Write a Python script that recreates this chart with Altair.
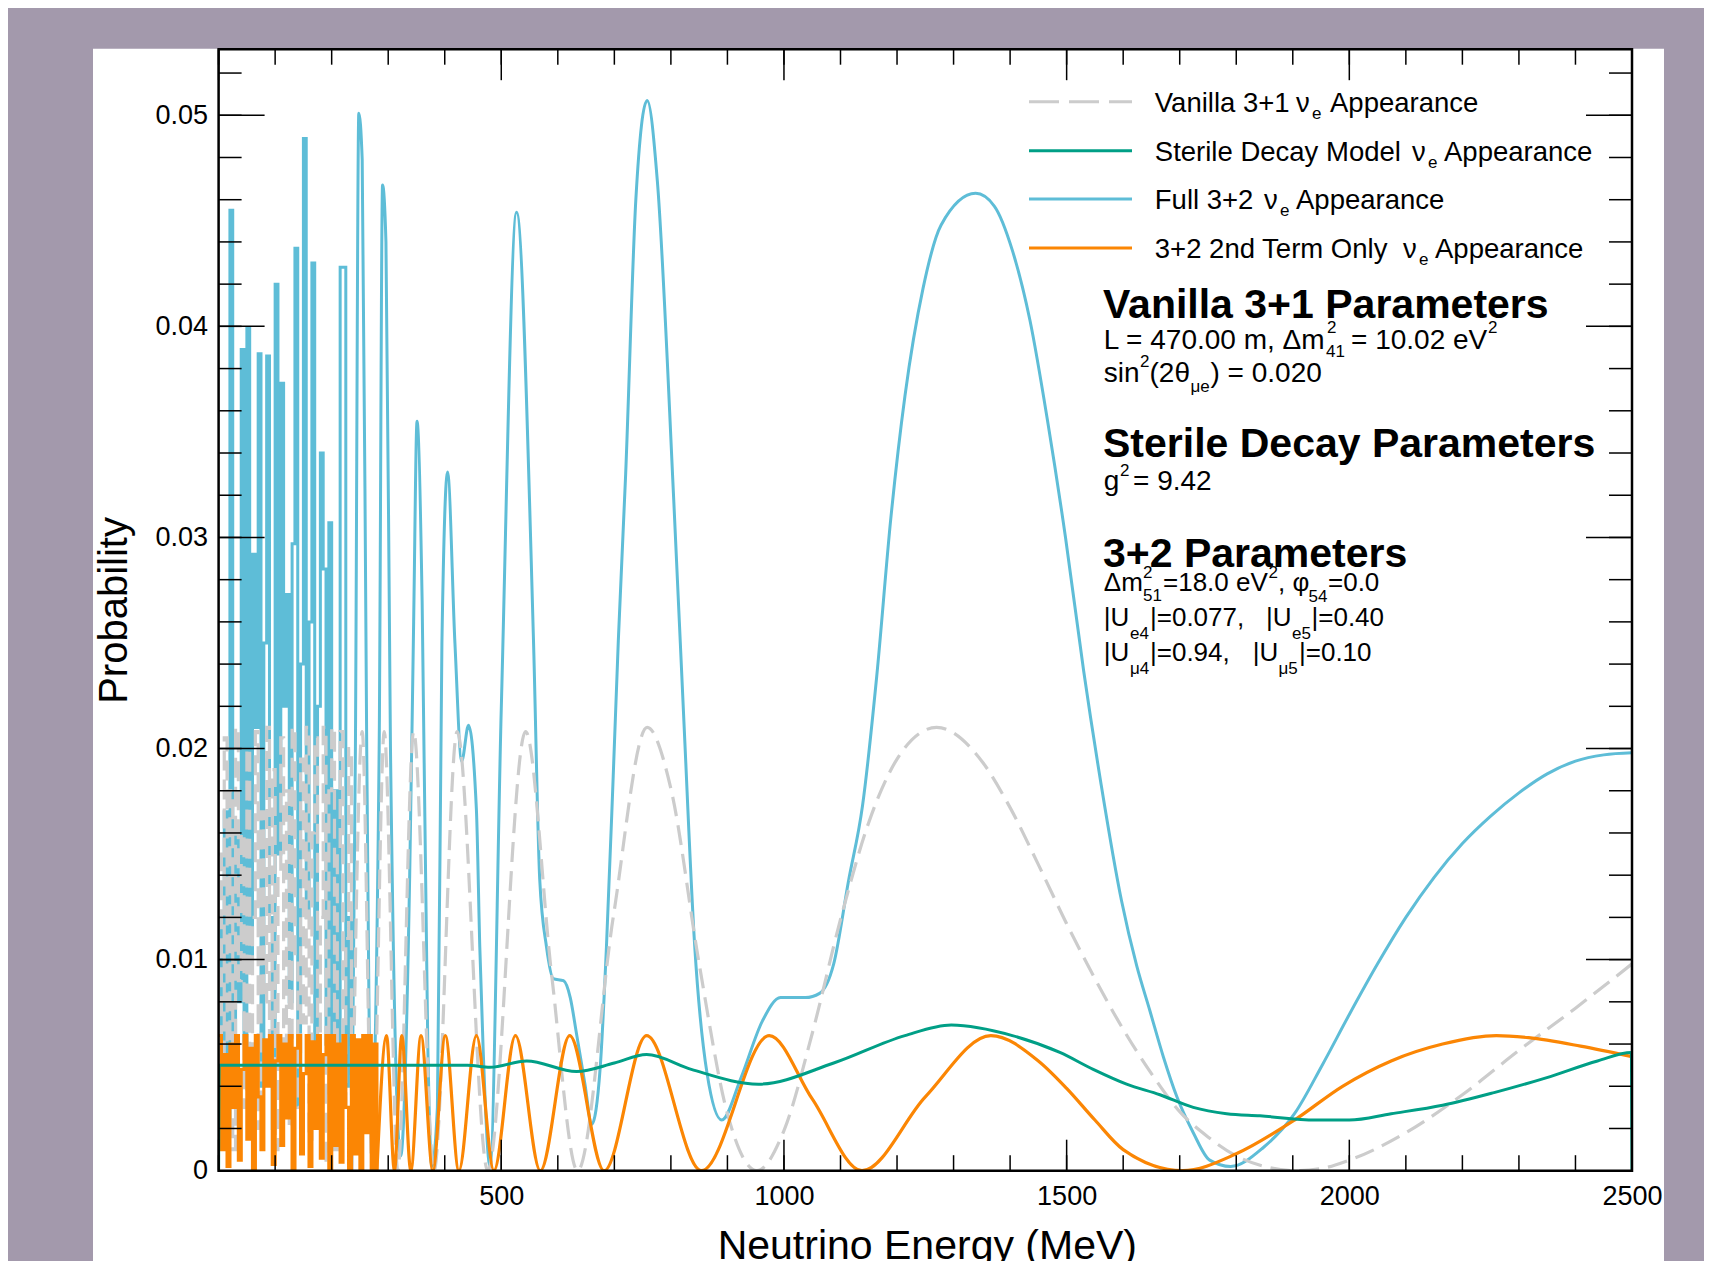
import altair as alt
import pandas as pd

# ------------------------------------------------------------------ data
# dense, aliased low-energy region (5 MeV histogram bins)
bin_E = list(range(0, 240, 5))
blue_dense = [
    0.0120, 0.0035, 0.0170, 0.0025, 0.0455, 0.0030, 0.0160, 0.0080, 0.0389, 0.0060,
    0.0399, 0.0100, 0.0292, 0.0210, 0.0387, 0.0040, 0.0250, 0.0386, 0.0120, 0.0020,
    0.0420, 0.0150, 0.0373, 0.0220, 0.0273, 0.0080, 0.0297, 0.0437, 0.0030, 0.0240,
    0.0489, 0.0120, 0.0260, 0.0430, 0.0040, 0.0220, 0.0340, 0.0285, 0.0060, 0.0307,
    0.0010, 0.0180, 0.0020, 0.0428, 0.0428, 0.0040, 0.0120, 0.0010]
gray_dense = [
    0.0150, 0.0020, 0.0205, 0.0060, 0.0180, 0.0010, 0.0210, 0.0090, 0.0160, 0.0030,
    0.0200, 0.0050, 0.0120, 0.0208, 0.0020, 0.0170, 0.0080, 0.0210, 0.0040, 0.0190,
    0.0010, 0.0140, 0.0205, 0.0060, 0.0180, 0.0020, 0.0210, 0.0100, 0.0030, 0.0195,
    0.0070, 0.0210, 0.0015, 0.0160, 0.0205, 0.0040, 0.0120, 0.0210, 0.0005, 0.0180,
    0.0210, 0.0010, 0.0150, 0.0208, 0.0030, 0.0110, 0.0200, 0.0000]
orange_bin_E = list(range(0, 285, 5))
orange_dense = [
    0.0064, 0.0010, 0.0055, 0.0002, 0.0060, 0.0030, 0.0064, 0.0005, 0.0048, 0.0064,
    0.0015, 0.0058, 0.0000, 0.0064, 0.0035, 0.0010, 0.0062, 0.0040, 0.0064, 0.0003,
    0.0052, 0.0064, 0.0012, 0.0060, 0.0025, 0.0064, 0.0000, 0.0058, 0.0064, 0.0008,
    0.0046, 0.0064, 0.0002, 0.0061, 0.0020, 0.0064, 0.0006, 0.0055, 0.0064, 0.0000,
    0.0064, 0.0012, 0.0060, 0.0004, 0.0064, 0.0030, 0.0000, 0.0064, 0.0008, 0.0062,
    0.0000, 0.0064, 0.0018, 0.0064, 0.0000, 0.0060, 0.0000]

# resolved region (knots)
blue_E = [236, 242, 248, 254, 262, 270, 284, 290, 296, 304, 322, 338, 345, 351, 360,
          370, 377, 387, 395, 405, 418, 430, 442, 456, 462, 468, 480, 500, 527, 557,
          568, 580, 592, 610, 622, 633, 648, 660, 675, 686, 698, 707, 720, 738, 758,
          776, 805, 823, 842, 864, 890, 924, 962, 994, 1038, 1063, 1088, 1114, 1139,
          1164, 1189, 1214, 1246, 1278, 1339, 1372, 1404, 1435, 1467, 1498, 1530,
          1561, 1597, 1624, 1647, 1671, 1695, 1724, 1753, 1790, 1848, 1903, 1952,
          2000, 2050, 2100, 2150, 2200, 2250, 2300, 2350, 2400, 2450, 2500]
blue_P = [0.0020, 0.0200, 0.0501, 0.0479, 0.0200, 0.0015, 0.0200, 0.0467, 0.0440, 0.0200,
          0.0007, 0.0140, 0.0260, 0.0355, 0.0270, 0.0060, 0.0002, 0.0030, 0.0250, 0.0331,
          0.0250, 0.0194, 0.0211, 0.0171, 0.0106, 0.0057, 0.0002, 0.0219, 0.0454, 0.0251,
          0.0138, 0.0106, 0.0091, 0.0090, 0.0082, 0.0065, 0.0041, 0.0022, 0.0049, 0.0106,
          0.0187, 0.0251, 0.0330, 0.0460, 0.0507, 0.0469, 0.0318, 0.0213, 0.0107, 0.0046,
          0.0024, 0.0044, 0.0071, 0.0082, 0.0082, 0.0084, 0.0098, 0.0137, 0.0173, 0.0234,
          0.0309, 0.0367, 0.0418, 0.0448, 0.0463, 0.0457, 0.0436, 0.0403, 0.0354, 0.0300,
          0.0237, 0.0183, 0.0128, 0.0097, 0.0076, 0.0054, 0.0035, 0.0018, 0.0005, 0.0002,
          0.0011, 0.0027, 0.0050, 0.0074, 0.0098, 0.0120, 0.0139, 0.0155, 0.0168, 0.0179,
          0.0188, 0.0194, 0.0197, 0.0198]

gray_E = [236, 254, 272, 293, 317, 345, 381, 422, 476, 543, 589, 635, 698, 758, 800,
          850, 900, 952, 1000, 1050, 1100, 1150, 1200, 1270, 1350, 1400, 1450, 1500,
          1550, 1600, 1650, 1700, 1750, 1800, 1850, 1904, 1950, 2000, 2100, 2200, 2300,
          2400, 2500]
gray_P = [0.0000, 0.0208, 0.0000, 0.0208, 0.0000, 0.0208, 0.0000, 0.0208, 0.0000, 0.0208,
          0.0093, 0.0000, 0.0120, 0.0210, 0.0181, 0.0098, 0.0027, 0.0000, 0.0019, 0.0065,
          0.0119, 0.0165, 0.0195, 0.0210, 0.0194, 0.0172, 0.0145, 0.0117, 0.0091, 0.0067,
          0.0046, 0.0028, 0.0016, 0.0007, 0.0002, 0.0000, 0.0001, 0.0005, 0.0018, 0.0036,
          0.0057, 0.0077, 0.0098]

orange_E = [280, 297, 311, 324, 340, 358, 379, 401, 425, 456, 487, 525, 569, 621, 682,
            757, 854, 974, 1050, 1138, 1250, 1366, 1450, 1500, 1550, 1600, 1705, 1800,
            1903, 1988, 2074, 2165, 2260, 2317, 2409, 2500]
orange_P = [0.0000, 0.0064, 0.0000, 0.0064, 0.0000, 0.0064, 0.0000, 0.0064, 0.0000, 0.0064,
            0.0000, 0.0064, 0.0000, 0.0064, 0.0000, 0.0064, 0.0000, 0.0064, 0.0034, 0.0000,
            0.0035, 0.0064, 0.0052, 0.0039, 0.0024, 0.0010, 0.0000, 0.0008, 0.0024, 0.0040,
            0.0052, 0.0060, 0.0064, 0.0063, 0.0059, 0.0054]

green_E = [0, 1, 320, 440, 480, 545, 633, 700, 757, 836, 955, 1088, 1214, 1296, 1404,
           1488, 1547, 1606, 1665, 1724, 1783, 1842, 1940, 2000, 2074, 2165, 2256, 2348,
           2439, 2499, 2500]
green_P = [0.0000, 0.0050, 0.0050, 0.0050, 0.0049, 0.0052, 0.0047, 0.0051, 0.0055, 0.0048,
           0.0041, 0.0051, 0.0064, 0.0069, 0.0064, 0.0056, 0.0048, 0.0041, 0.0036, 0.0030,
           0.0027, 0.0026, 0.0024, 0.0024, 0.0027, 0.0031, 0.0037, 0.0044, 0.0052, 0.0056,
           0.0000]

x_major = [0, 500, 1000, 1500, 2000, 2500]
x_minor = list(range(0, 2600, 100))
x_labels = [500, 1000, 1500, 2000, 2500]
y_major = [0.0, 0.01, 0.02, 0.03, 0.04, 0.05]
y_minor = [0.002, 0.004, 0.006, 0.008, 0.010, 0.012, 0.014, 0.016, 0.018, 0.020,
           0.022, 0.024, 0.026, 0.028, 0.030, 0.032, 0.034, 0.036, 0.038, 0.040,
           0.042, 0.044, 0.046, 0.048, 0.050, 0.052]

# ------------------------------------------------------------------ layout / style
W, H = 1413.4, 1121.5          # plot area
X0, Y0 = 218.6, 49.2           # plot origin in page pixels
FONT = "Liberation Sans"
BLUE, GRAY, ORANGE, GREEN = "#5ebdd7", "#cccccc", "#fb8604", "#009f86"
GDASH = [20, 9]

xs = alt.Scale(domain=[0, 2500], nice=False, zero=False)
ys = alt.Scale(domain=[0, 0.05313], nice=False, zero=False)

XAX = alt.Axis(values=x_labels, format="d", title="Neutrino Energy (MeV)", ticks=False,
               tickSize=0, domain=False, grid=False, labelFontSize=27, labelPadding=13,
               labelColor="black", labelFont=FONT, labelOverlap=False, labelFlush=False,
               titleFontSize=41, titleFont=FONT, titleFontWeight="normal",
               titleColor="black", titleX=W / 2 + 1.5, titleY=88, titleAlign="center",
               titleBaseline="alphabetic", zindex=2)
YAX = alt.Axis(values=y_major, format=".2~f", title="Probability", ticks=False,
               tickSize=0, domain=False, grid=False, labelFontSize=27, labelPadding=11,
               labelColor="black", labelFont=FONT, labelOverlap=False, labelFlush=False,
               titleFontSize=40, titleFont=FONT, titleFontWeight="normal",
               titleColor="black", titleAngle=270, titleX=114 - X0, titleY=H / 2,
               titleAlign="center", titleBaseline="middle", zindex=2)


def X():
    return alt.X("E:Q", scale=xs, axis=XAX)


def Y():
    return alt.Y("P:Q", scale=ys, axis=YAX)


def df(E, P):
    return pd.DataFrame({"E": E, "P": P})


def curve(data, color, interp, width=3.0, dash=None):
    kw = dict(color=color, strokeWidth=width, interpolate=interp, clip=True)
    if dash:
        kw["strokeDash"] = dash
    return alt.Chart(data).mark_line(**kw).encode(x=X(), y=Y())


dummy = pd.DataFrame({"d": [0]})


def txt(s, px, py, size, bold=False):
    return alt.Chart(dummy).mark_text(
        text=s, align="left", baseline="alphabetic", fontSize=size, font=FONT,
        fontWeight="bold" if bold else "normal", color="black"
    ).encode(x=alt.value(px - X0), y=alt.value(py - Y0))


def hline(px1, px2, py, color, dash=None):
    kw = dict(color=color, strokeWidth=3)
    if dash:
        kw["strokeDash"] = dash
    return alt.Chart(dummy).mark_rule(**kw).encode(
        x=alt.value(px1 - X0), x2=alt.value(px2 - X0), y=alt.value(py - Y0))


layers = []

# white panel
layers.append(alt.Chart(dummy).mark_rect(color="white").encode(
    x=alt.value(93 - X0), x2=alt.value(1664 - X0), y=alt.value(-0.5), y2=alt.value(H + 200)))

# curves
layers.append(curve(df(bin_E, blue_dense), BLUE, "step-after"))
layers.append(curve(df(blue_E, blue_P), BLUE, "monotone"))
layers.append(curve(df(bin_E, gray_dense), GRAY, "step-after", width=3.2, dash=GDASH))
layers.append(curve(df(gray_E, gray_P), GRAY, "monotone", width=3.2, dash=GDASH))
layers.append(curve(df(orange_bin_E, orange_dense), ORANGE, "step-after", width=3.2))
layers.append(curve(df(orange_E, orange_P), ORANGE, "monotone", width=3.2))
layers.append(curve(df(green_E, green_P), GREEN, "monotone", width=3.0))

# ticks (inward, on all four sides)
tick = dict(color="black", strokeWidth=1.5)
xmin_df = pd.DataFrame({"E": x_minor})
xmaj_df = pd.DataFrame({"E": x_major})
ymin_df = pd.DataFrame({"P": y_minor})
ymaj_df = pd.DataFrame({"P": y_major})
for d_, ln in ((xmin_df, 15.5), (xmaj_df, 31)):
    layers.append(alt.Chart(d_).mark_rule(**tick).encode(x=X(), y=alt.value(H), y2=alt.value(H - ln)))
    layers.append(alt.Chart(d_).mark_rule(**tick).encode(x=X(), y=alt.value(0), y2=alt.value(ln)))
for d_, ln in ((ymin_df, 23), (ymaj_df, 46)):
    layers.append(alt.Chart(d_).mark_rule(**tick).encode(y=Y(), x=alt.value(0), x2=alt.value(ln)))
    layers.append(alt.Chart(d_).mark_rule(**tick).encode(y=Y(), x=alt.value(W), x2=alt.value(W - ln)))

# frame
layers.append(alt.Chart(dummy).mark_rect(fillOpacity=0, stroke="black", strokeWidth=2.5).encode(
    x=alt.value(0), x2=alt.value(W), y=alt.value(0), y2=alt.value(H)))

# legend
rows = [101.7, 150.8, 198.9, 248.1]
layers.append(hline(1029, 1132, rows[0], GRAY, dash=[30, 10]))
layers.append(hline(1029, 1132, rows[1], GREEN))
layers.append(hline(1029, 1132, rows[2], BLUE))
layers.append(hline(1029, 1132, rows[3], ORANGE))
LS, SS = 27.5, 17
legend_parts = [
    ("Vanilla 3+1", 1296, 1312, 1330),
    ("Sterile Decay Model", 1412, 1428, 1444),
    ("Full 3+2", 1264, 1280, 1296),
    ("3+2 2nd Term Only", 1403, 1419, 1435),
]
for (s, xn, xe, xa), ry in zip(legend_parts, rows):
    layers.append(txt(s, 1154.8, ry + 10, LS))
    layers.append(txt("\u03bd", xn, ry + 10, LS))
    layers.append(txt("e", xe, ry + 17, SS))
    layers.append(txt("Appearance", xa, ry + 10, LS))

# parameter blocks
BS, NS, MS = 41, 28, 26
layers += [
    txt("Vanilla 3+1 Parameters", 1103, 318, BS, bold=True),
    txt("L = 470.00 m, \u0394m", 1103.8, 348.5, NS),
    txt("2", 1327, 333, SS), txt("41", 1326, 357, SS),
    txt("= 10.02 eV", 1351, 348.5, NS), txt("2", 1488, 333, SS),
    txt("sin", 1103.8, 381.5, NS), txt("2", 1140, 367, SS),
    txt("(2\u03b8", 1149.5, 381.5, NS), txt("\u03bce", 1190.5, 392, SS),
    txt(") = 0.020", 1210.5, 381.5, NS),
    txt("Sterile Decay Parameters", 1103, 457, BS, bold=True),
    txt("g", 1103.8, 490, NS), txt("2", 1120, 476, SS), txt("= 9.42", 1133, 490, NS),
    txt("3+2 Parameters", 1103, 567, BS, bold=True),
    txt("\u0394m", 1103.8, 591, MS), txt("2", 1143, 578, SS), txt("51", 1143, 601, SS),
    txt("=18.0 eV", 1163, 591, MS), txt("2", 1268.5, 578, SS),
    txt(", \u03c6", 1278, 591, MS), txt("54", 1308.5, 602, SS), txt("=0.0", 1328, 591, MS),
    txt("|U", 1103.8, 626, MS), txt("e4", 1130, 639, SS), txt("|=0.077,", 1150, 626, MS),
    txt("|U", 1266, 626, MS), txt("e5", 1292, 639, SS), txt("|=0.40", 1311.5, 626, MS),
    txt("|U", 1103.8, 661, MS), txt("\u03bc4", 1130, 674, SS), txt("|=0.94,", 1150, 661, MS),
    txt("|U", 1252.7, 661, MS), txt("\u03bc5", 1278.5, 674, SS), txt("|=0.10", 1299, 661, MS),
]

CANVAS_W, CANVAS_H = 1696, 1253
chart = alt.layer(*layers).properties(
    width=W, height=H,
    autosize=alt.AutoSizeParams(type="none"),
    padding={"left": X0 - 8, "top": Y0 - 8,
             "right": CANVAS_W - (X0 - 8) - W, "bottom": CANVAS_H - (Y0 - 8) - H},
    background="#a399ac",
).configure_view(stroke="transparent", strokeWidth=0)

chart.save("out.html", embed_options={"renderer": "svg", "actions": False})
